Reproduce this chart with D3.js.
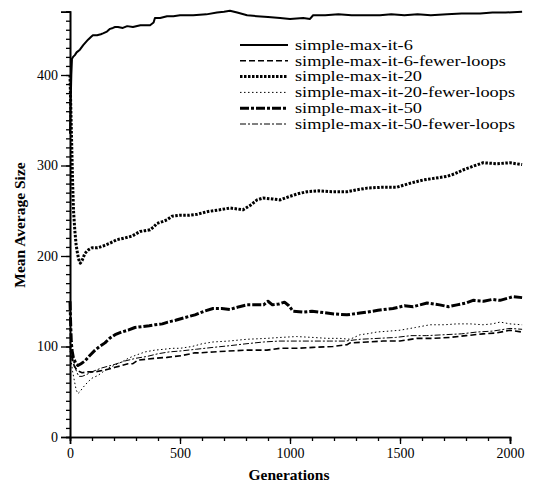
<!DOCTYPE html>
<html>
<head>
<meta charset="utf-8">
<script src="https://cdn.jsdelivr.net/npm/d3@7"></script>
<style>
	body { margin: 0; background: #fff; }
	text { font-family: "Liberation Serif", "Times New Roman", serif; fill: #000; }
</style>
</head>
<body>
<div id="chart"></div>
<script>
"use strict";

//********************************* DATA *********************************
// [generation, mean average size]
var it6 = [[0,335],[3,370],[6,400],[9,418],[14,420],[22,422],[30,425],[45,428],[60,433],[82,439],[95,442],[104,444],[123,444],[140,445],[150,446],[168,448],[182,451],[195,452],[205,453],[218,453],[240,452],[260,454],[286,453],[320,455],[364,455],[380,458],[386,463],[410,463],[441,465],[470,465],[500,466],[560,466],[620,467],[668,469],[700,470],[727,471],[760,469],[805,466],[850,465],[900,464],[955,463],[1000,462],[1060,463],[1091,462],[1105,466],[1160,466],[1220,467],[1280,466],[1340,466],[1409,466],[1460,467],[1520,466],[1580,467],[1640,466],[1714,467],[1780,468],[1864,468],[1920,469],[1980,469],[2055,470]];

var it6Fewer = [[0,100],[5,92],[12,84],[20,78],[32,74],[45,72],[55,71],[80,72],[114,72],[159,74],[205,77],[236,79],[264,81],[286,81],[309,85],[350,86],[386,87],[441,88],[509,90],[568,93],[591,93],[650,94],[720,95],[805,96],[895,96],[955,98],[1030,98],[1105,99],[1195,100],[1259,102],[1273,104],[1350,105],[1423,106],[1500,106],[1577,109],[1650,109],[1727,110],[1800,112],[1877,114],[1940,115],[2000,118],[2055,116]];

var it20 = [[0,400],[4,360],[8,320],[12,280],[16,250],[22,228],[28,212],[34,203],[40,196],[47,192],[55,195],[68,203],[85,207],[100,209],[125,209],[150,211],[180,214],[213,218],[250,220],[282,222],[318,227],[340,228],[364,229],[380,232],[395,236],[420,238],[441,240],[464,244],[500,245],[540,245],[577,246],[623,249],[680,251],[727,253],[760,252],[786,251],[820,256],[850,262],[877,264],[920,263],[955,262],[1000,266],[1040,269],[1077,271],[1130,272],[1190,271],[1259,271],[1300,273],[1350,275],[1420,276],[1486,276],[1540,280],[1605,284],[1660,286],[1714,288],[1750,291],[1786,295],[1830,299],[1877,303],[1940,302],[2000,303],[2055,301]];

var it20Fewer = [[0,95],[5,85],[12,72],[20,62],[28,52],[36,48],[45,50],[60,55],[82,61],[100,65],[127,68],[150,72],[173,76],[200,79],[236,83],[265,87],[295,90],[341,94],[386,96],[430,97],[464,98],[500,98],[555,100],[600,103],[650,105],[720,106],[805,108],[895,109],[955,110],[1030,111],[1105,110],[1170,109],[1227,109],[1273,108],[1318,113],[1350,114],[1395,116],[1450,117],[1500,118],[1570,121],[1636,124],[1700,124],[1759,125],[1820,125],[1877,124],[1920,125],[1955,127],[2000,125],[2055,124]];

var it50 = [[0,150],[3,125],[6,105],[9,96],[15,88],[25,82],[36,79],[50,81],[68,84],[90,90],[114,96],[135,100],[159,104],[180,109],[205,113],[235,116],[264,118],[295,121],[327,122],[360,123],[386,124],[420,125],[445,127],[480,129],[523,132],[568,135],[610,139],[650,142],[690,142],[727,141],[770,144],[805,146],[850,146],[880,146],[900,150],[920,146],[950,147],[975,149],[995,145],[1014,139],[1060,138],[1100,139],[1136,138],[1200,136],[1259,135],[1318,137],[1350,138],[1400,140],[1468,142],[1520,145],[1560,144],[1623,148],[1680,146],[1720,144],[1759,146],[1800,148],[1832,151],[1880,150],[1920,152],[1955,151],[2014,155],[2055,154]];

var it50Fewer = [[0,105],[5,98],[12,88],[20,80],[30,72],[40,67],[55,67],[75,69],[100,72],[140,76],[200,80],[250,84],[300,87],[350,89],[400,92],[450,94],[500,95],[575,97],[650,99],[730,101],[800,103],[880,105],[950,106],[1030,106],[1100,106],[1180,106],[1250,106],[1320,108],[1400,109],[1480,110],[1550,112],[1620,112],[1700,113],[1780,114],[1850,116],[1920,117],[2000,120],[2055,119]];

var seriesNames = ["simple-max-it-6", "simple-max-it-6-fewer-loops", "simple-max-it-20",
                   "simple-max-it-20-fewer-loops", "simple-max-it-50", "simple-max-it-50-fewer-loops"];
var xTickValues = [0, 500, 1000, 1500, 2000];
var yTickValues = [0, 100, 200, 300, 400];

//********************************* SETUP *********************************
var width = 536, height = 484;
var svg = d3.select("#chart").append("svg")
		.attr("width", width)
		.attr("height", height);

var x = d3.scaleLinear().domain([0, 2000]).range([70, 510]);
var y = d3.scaleLinear().domain([0, 470]).range([437, 437 - 470 * 0.905]);

// line styles, same order as seriesNames
var series = [
	{ data: it6,       width: 2,   dash: null },
	{ data: it6Fewer,  width: 1.6, dash: "6,3" },
	{ data: it20,      width: 3,   dash: "2.5,1.5" },
	{ data: it20Fewer, width: 1,   dash: "1.5,2.5" },
	{ data: it50,      width: 3,   dash: "9,2,3,2" },
	{ data: it50Fewer, width: 1,   dash: "6,2,2,2" }
];

var line = d3.line()
		.x(function(d){ return x(d[0]); })
		.y(function(d){ return y(d[1]); });

//********************************* AXES *********************************
var xAxis = svg.append("g").attr("transform", "translate(0," + y(0) + ")");
xAxis.call(d3.axisBottom(x).tickValues(d3.range(0, 2001, 100)).tickSize(4).tickFormat(""));
xAxis.append("g").call(d3.axisBottom(x).tickValues(xTickValues).tickSize(7).tickPadding(4).tickFormat(d3.format("d")));

var yAxis = svg.append("g").attr("transform", "translate(" + x(0) + ",0)");
yAxis.call(d3.axisLeft(y).tickValues(d3.range(0, 471, 10)).tickSize(4).tickFormat(""));
yAxis.append("g").call(d3.axisLeft(y).tickValues(yTickValues).tickSize(9).tickPadding(3).tickFormat(d3.format("d")));

svg.selectAll(".domain").attr("stroke", "#000").attr("stroke-width", 1.6);
svg.selectAll(".tick line").attr("stroke", "#000").attr("stroke-width", 1.3);
svg.selectAll(".tick text")
		.style("font-family", "'Liberation Serif', serif")
		.style("font-size", "14px")
		.attr("fill", "#000");

// axis titles
svg.append("text")
		.attr("x", 289)
		.attr("y", 480)
		.attr("text-anchor", "middle")
		.style("font-size", "15.5px")
		.style("font-weight", "bold")
		.text("Generations");

svg.append("text")
		.attr("transform", "translate(25,225) rotate(-90)")
		.attr("text-anchor", "middle")
		.style("font-size", "15.5px")
		.style("font-weight", "bold")
		.text("Mean Average Size");

//********************************* LINES *********************************
series.forEach(function(s){
	svg.append("path")
			.datum(s.data)
			.attr("d", line)
			.attr("fill", "none")
			.attr("stroke", "#000")
			.attr("stroke-width", s.width)
			.attr("stroke-linejoin", "round")
			.attr("stroke-dasharray", s.dash);
});

//********************************* LEGEND *********************************
// rows are tight in the original, so the font is kept small and stretched sideways
var legend = svg.append("g").attr("transform", "translate(240,45)");
seriesNames.forEach(function(name, i){
	var row = legend.append("g").attr("transform", "translate(0," + (i * 15.8) + ")");
	row.append("line")
			.attr("x1", 0).attr("x2", 48)
			.attr("y1", 0).attr("y2", 0)
			.attr("stroke", "#000")
			.attr("stroke-width", series[i].width)
			.attr("stroke-dasharray", series[i].dash);
	row.append("text")
			.attr("transform", "translate(55,4.8) scale(1.22,1)")
			.style("font-size", "15px")
			.text(name);
});
</script>
</body>
</html>
